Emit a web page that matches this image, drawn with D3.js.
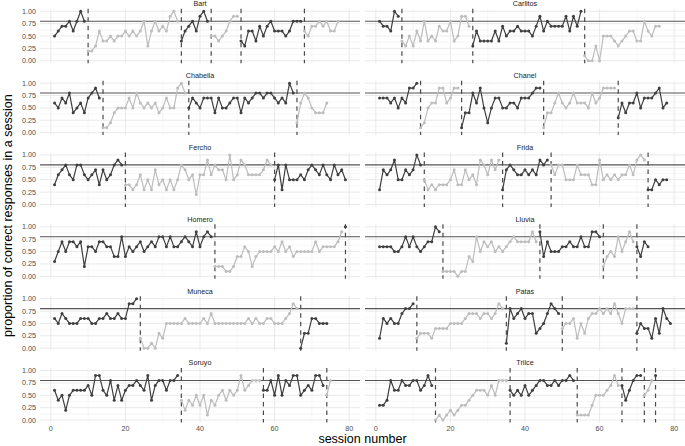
<!DOCTYPE html>
<html><head><meta charset="utf-8">
<script src="https://cdn.jsdelivr.net/npm/d3@7"></script>
<style>body{margin:0;background:#fff}svg{display:block}svg text{-webkit-font-smoothing:antialiased;}</style>
</head><body><svg id="chart" width="685" height="446"></svg>
<script>
// ---- data: each subject = list of phases (consecutive sessions starting at 1) ----
const subjects = ["Bart","Carlitos","Chabella","Chanel","Fercho","Frida","Homero","Lluvia","Muneca","Patas","Soruyo","Trilce"];

const bart = [
 [0.5,0.6,0.7,0.7,0.8,0.6,0.8,1.0,0.8],
 [0.2,0.2,0.3,0.6,0.4,0.4,0.5,0.4,0.5,0.5,0.6,0.5,0.6,0.5,0.6,0.8,0.3,0.6,0.8,0.6,0.7,0.6,0.9,1.0,0.8],
 [0.4,0.6,0.7,0.8,0.6,0.9,1.0,0.8],
 [0.5,0.5,0.4,0.5,0.6,0.8,0.9,0.9],
 [0.4,0.3,0.6,0.6,0.4,0.7,0.5,0.7,0.8,0.6,0.6,0.6,0.5,0.6,0.8,0.8,0.8],
 [0.6,0.5,0.7,0.7,0.8,0.7,0.8,0.6,0.6,0.8]
];
const carlitos = [
 [0.8,0.7,0.7,0.6,1.0,0.9],
 [0.4,0.3,0.5,0.3,0.6,0.4,0.8,0.4,0.5,0.4,0.7,0.6,0.6,0.8,0.4,0.5,0.9,0.9,0.7],
 [0.3,0.6,0.4,0.4,0.4,0.4,0.6,0.4,0.7,0.5,0.6,0.6,0.7,0.6,0.6,0.6,0.5,0.7,0.9,0.6,0.8,0.7,0.7,0.7,0.7,0.9,0.6,0.9,0.7,1.0],
 [0.1,0.0,0.0,0.3,0.0,0.5,0.5,0.5,0.4,0.3,0.4,0.5,0.6,0.6,0.4,0.4,0.8,0.6,0.5,0.7,0.7]
];
const chabella = [
 [0.6,0.5,0.7,0.6,0.8,0.4,0.5,0.6,0.4,0.7,0.8,0.9,0.7],
 [0.1,0.1,0.2,0.4,0.5,0.5,0.5,0.7,0.5,0.8,0.6,0.5,0.6,0.5,0.6,0.4,0.5,0.7,0.5,0.5,0.9,1.0,0.8],
 [0.5,0.7,0.6,0.5,0.7,0.7,0.7,0.4,0.7,0.5,0.5,0.6,0.7,0.7,0.4,0.7,0.6,0.7,0.8,0.8,0.7,0.8,0.8,0.7,0.6,0.7,0.6,1.0,0.8],
 [0.2,0.6,0.8,0.7,0.5,0.4,0.4,0.4,0.6]
];
const chanel = [
 [0.7,0.7,0.7,0.6,0.7,0.5,0.7,0.6,0.9,0.9,1.0],
 [0.1,0.2,0.5,0.6,0.6,0.9,0.9,0.6,0.7,0.9,0.9],
 [0.1,0.4,0.4,0.8,0.6,0.9,0.5,0.2,0.5,0.7,0.7,0.5,0.5,0.6,0.6,0.5,0.7,0.7,0.7,0.8,0.9,0.9],
 [0.1,0.4,0.4,0.6,0.8,0.6,0.5,0.6,0.8,0.6,0.6,0.6,0.5,0.8,0.6,0.7,0.9,0.9,0.9,0.9],
 [0.3,0.6,0.4,0.6,0.6,0.8,0.5,0.7,0.7,0.7,0.8,0.9,0.5,0.6]
];
const fercho = [
 [0.4,0.6,0.7,0.8,0.6,0.5,0.8,0.8,0.6,0.5,0.6,0.7,0.4,0.7,0.5,0.6,0.8,0.9,0.8],
 [0.4,0.4,0.3,0.4,0.6,0.3,0.5,0.3,0.7,0.4,0.5,0.3,0.5,0.3,0.5,0.8,0.7,0.5,0.6,0.2,0.6,0.6,0.9,0.6,0.8,0.7,0.7,0.5,1.0,0.5,0.6,0.9,0.8,0.6,0.6,0.6,0.6,0.7,0.9,0.8],
 [0.5,0.8,0.3,0.8,0.5,0.5,0.5,0.6,0.5,0.7,0.8,0.7,0.6,0.8,0.6,0.5,0.8,0.6,0.7,0.5]
];
const frida = [
 [0.3,0.7,0.6,0.7,0.9,0.5,0.5,0.7,0.6,0.7,1.0,0.8],
 [0.5,0.3,0.4,0.3,0.4,0.4,0.4,0.5,0.7,0.4,0.4,0.7,0.5,0.6,0.4,0.9,0.8,0.6,0.9,0.7,0.9],
 [0.3,0.7,0.8,0.7,0.6,0.6,0.7,0.6,0.7,0.6,0.9,0.8,0.9],
 [0.8,0.6,0.8,0.8,0.5,0.5,0.5,0.8,0.6,0.6,0.6,0.4,0.4,0.9,0.5,0.6,0.5,0.6,0.5,0.6,0.6,0.8,0.6,0.9,1.0,0.9],
 [0.3,0.3,0.5,0.4,0.5,0.5]
];
const homero = [
 [0.3,0.5,0.7,0.5,0.7,0.7,0.6,0.7,0.2,0.6,0.6,0.5,0.7,0.7,0.6,0.6,0.4,0.4,0.8,0.4,0.6,0.5,0.6,0.7,0.5,0.6,0.7,0.6,0.8,0.8,0.6,0.8,0.6,0.6,0.7,0.8,0.7,0.6,0.9,0.6,0.8,0.9,0.8],
 [0.2,0.2,0.2,0.1,0.1,0.2,0.4,0.4,0.6,0.5,0.2,0.4,0.5,0.5,0.5,0.5,0.6,0.5,0.7,0.5,0.6,0.4,0.5,0.5,0.5,0.5,0.5,0.7,0.5,0.6,0.6,0.6,0.6,0.7,0.9],
 [1.0]
];
const lluvia = [
 [0.6,0.6,0.6,0.6,0.5,0.5,0.6,0.8,0.6,0.8,0.6,0.5,0.6,0.7,0.7,1.0,0.9],
 [0.1,0.1,0.1,0.1,0.0,0.1,0.1,0.4,0.3,0.8,0.5,0.7,0.6,0.7,0.5,0.6,0.5,0.6,0.7,0.8,0.7,0.7,0.7,0.7,0.9,0.7],
 [0.9,0.4,0.7,0.5,0.5,0.5,0.6,0.6,0.7,0.6,0.6,0.8,0.6,0.6,0.9,0.9,0.8],
 [0.2,0.4,0.5,0.4,0.8,0.5,0.7,0.9,0.7],
 [0.6,0.4,0.7,0.6]
];
const muneca = [
 [0.6,0.5,0.7,0.6,0.5,0.5,0.5,0.6,0.6,0.6,0.5,0.5,0.6,0.6,0.7,0.6,0.6,0.7,0.6,0.6,0.9,0.9,1.0],
 [0.2,0.0,0.0,0.1,0.0,0.3,0.2,0.5,0.5,0.5,0.5,0.5,0.6,0.5,0.5,0.5,0.5,0.6,0.5,0.7,0.5,0.5,0.5,0.5,0.5,0.5,0.5,0.5,0.5,0.6,0.5,0.6,0.5,0.5,0.6,0.6,0.5,0.5,0.5,0.6,0.7,0.9,0.8],
 [0.0,0.3,0.3,0.6,0.6,0.5,0.5,0.5]
];
const patas = [
 [0.2,0.6,0.5,0.6,0.5,0.5,0.7,0.8,0.8,0.9],
 [0.2,0.3,0.3,0.3,0.2,0.4,0.4,0.4,0.4,0.5,0.5,0.5,0.5,0.6,0.7,0.7,0.7,0.6,0.7,0.7,0.6,0.7,0.9,0.8],
 [0.1,0.8,0.6,0.7,0.8,0.6,0.7,0.7,0.3,0.4,0.5,0.7,0.9,0.8,0.7],
 [0.4,0.5,0.5,0.6,0.2,0.5,0.3,0.6,0.7,0.7,0.8,0.7,0.8,0.7,0.9,0.7,0.5,0.8,0.8,0.8],
 [0.3,0.5,0.4,0.4,0.2,0.6,0.3,0.8,0.6,0.5]
];
const soruyo = [
 [0.6,0.4,0.5,0.2,0.5,0.6,0.6,0.6,0.6,0.7,0.5,0.9,0.9,0.6,0.5,0.8,0.4,0.7,0.4,0.6,0.7,0.7,0.8,0.7,0.6,0.9,0.4,0.7,0.8,0.8,0.6,0.8,0.8,0.9],
 [0.4,0.2,0.4,0.3,0.5,0.3,0.5,0.1,0.4,0.3,0.5,0.6,0.4,0.6,0.5,0.6,0.9,0.6,0.7,0.8,0.8,0.8],
 [0.6,0.6,0.8,0.5,0.9,0.5,0.8,0.7,0.9,0.9,0.5,0.6,0.7,0.6,0.9,0.9,0.7],
 [0.5,0.8]
];
const trilce = [
 [0.3,0.3,0.4,0.8,0.6,0.6,0.8,0.7,0.7,0.8,0.8,0.6,0.7,0.9,0.7],
 [0.0,0.1,0.0,0.1,0.2,0.1,0.2,0.3,0.3,0.4,0.5,0.6,0.6,0.6,0.5,0.7,0.5,0.8,0.8,0.8],
 [0.6,0.5,0.6,0.5,0.7,0.5,0.6,0.7,0.8,0.8,0.7,0.7,0.8,0.7,0.8,0.8,0.9,0.8],
 [0.1,0.1,0.1,0.1,0.3,0.5,0.5,0.5,0.6,0.7,0.9,0.7],
 [0.7,0.4,0.6,0.8,0.9,0.9],
 [0.5,0.6,0.8],
 [0.9]
];
const subjectPhases = [bart,carlitos,chabella,chanel,fercho,frida,homero,lluvia,muneca,patas,soruyo,trilce];

const xTicks = [0,20,40,60,80];
const xMinor = [10,30,50,70];
const yTicks = [0,0.25,0.5,0.75,1];
const yMinor = [0.125,0.375,0.625,0.875];
const yTickLabels = ["0.00","0.25","0.50","0.75","1.00"];
const criterion = 0.8;
const xTitle = "session number";
const yTitle = "proportion of correct responses in a session";

// ---- layout ----
const svg = d3.select("#chart");
svg.append("rect").attr("width",685).attr("height",446).attr("fill","#fff");
const font = "'Liberation Sans', Arial, Helvetica, sans-serif";
const colLeft = [40, 365], panelW = 320;
const top0 = 8.8, rowStep = 71.85, panelH = 54.45;
const darkCol = "#3f3f3f", lightCol = "#bdbdbd";

subjects.forEach((name, k) => {
  const col = k % 2, row = Math.floor(k / 2);
  const left = colLeft[col], top = top0 + row * rowStep;
  const x = d3.scaleLinear().domain([-2.9, 82.9]).range([left, left + panelW]);
  const y = d3.scaleLinear().domain([-0.05, 1.05]).range([top + panelH, top]);
  const g = svg.append("g");

  // grid
  g.selectAll(".xm").data(xMinor).join("line")
    .attr("x1", d => x(d)).attr("x2", d => x(d)).attr("y1", top).attr("y2", top + panelH)
    .attr("stroke", "#f1f1f1").attr("stroke-width", 0.6);
  g.selectAll(".ym").data(yMinor).join("line")
    .attr("x1", left).attr("x2", left + panelW).attr("y1", d => y(d)).attr("y2", d => y(d))
    .attr("stroke", "#f1f1f1").attr("stroke-width", 0.6);
  g.selectAll(".xM").data(xTicks).join("line")
    .attr("x1", d => x(d)).attr("x2", d => x(d)).attr("y1", top).attr("y2", top + panelH)
    .attr("stroke", "#e6e6e6").attr("stroke-width", 0.9);
  g.selectAll(".yM").data(yTicks).join("line")
    .attr("x1", left).attr("x2", left + panelW).attr("y1", d => y(d)).attr("y2", d => y(d))
    .attr("stroke", "#e6e6e6").attr("stroke-width", 0.9);

  // criterion line
  g.append("line").attr("x1", left).attr("x2", left + panelW)
    .attr("y1", y(criterion)).attr("y2", y(criterion))
    .attr("stroke", "#555").attr("stroke-width", 1.1);

  // phases
  const phases = subjectPhases[k];
  let s = 1;
  const line = d3.line().x(d => x(d.s)).y(d => y(d.v));
  phases.forEach((vals, p) => {
    const pts = vals.map((v, i) => ({ s: s + i, v }));
    const c = p % 2 === 0 ? darkCol : lightCol;
    if (p > 0) {
      g.append("line").attr("x1", x(s)).attr("x2", x(s)).attr("y1", top).attr("y2", top + panelH)
        .attr("stroke", "#4a4a4a").attr("stroke-width", 1.2).attr("stroke-dasharray", "4.5,4");
    }
    g.append("path").datum(pts).attr("d", line).attr("fill", "none")
      .attr("stroke", c).attr("stroke-width", 1.2).attr("stroke-linejoin", "round");
    g.selectAll(null).data(pts).join("circle")
      .attr("cx", d => x(d.s)).attr("cy", d => y(d.v)).attr("r", 1.5).attr("fill", c);
    s += vals.length;
  });

  // strip title
  g.append("text").attr("x", Math.round(left + panelW / 2)).attr("y", Math.round(top - 2.6))
    .attr("text-anchor", "middle").attr("font-family", font).attr("font-size", 7.2)
    .attr("fill", "#1a1a1a").text(name);

  // y tick labels
  if (col === 0) {
    g.selectAll(".yl").data(yTicks).join("text")
      .attr("x", left - 4).attr("y", d => y(d)).attr("dy", "0.35em")
      .attr("text-anchor", "end").attr("font-family", font).attr("font-size", 7.2)
      .attr("fill", "#4d4d4d").text((d, i) => yTickLabels[i]);
  }
  // x tick labels
  if (row === 5) {
    g.selectAll(".xl").data(xTicks).join("text")
      .attr("x", d => x(d)).attr("y", top + panelH + 8.5)
      .attr("text-anchor", "middle").attr("font-family", font).attr("font-size", 7.2)
      .attr("fill", "#4d4d4d").text(d => d);
  }
});

// axis titles
svg.append("text").attr("x", 362.5).attr("y", 443).attr("text-anchor", "middle")
  .attr("font-family", font).attr("font-size", 12.5).attr("fill", "#000").text(xTitle);
svg.append("text").attr("transform", "translate(12," + (top0 + (5 * rowStep + panelH) / 2) + ") rotate(-90)")
  .attr("text-anchor", "middle").attr("font-family", font).attr("font-size", 12.5)
  .attr("fill", "#000").text(yTitle);
</script>
</body></html>
